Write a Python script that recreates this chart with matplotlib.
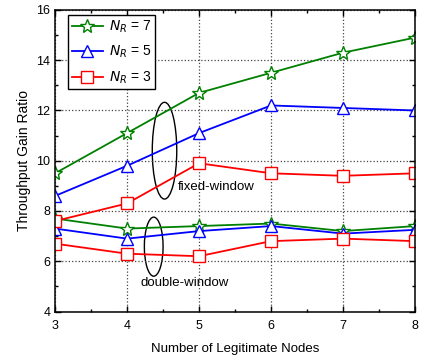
import numpy as np
import matplotlib.pyplot as plt
from matplotlib.patches import Ellipse
from matplotlib.ticker import MultipleLocator

plt.rcParams['font.family'] = ['Liberation Sans', 'DejaVu Sans']

# ------------------------------------------------------------
# Data
# ------------------------------------------------------------
nodes = [3, 4, 5, 6, 7, 8]

fixed_nr7 = [9.5, 11.1, 12.7, 13.5, 14.3, 14.9]
fixed_nr5 = [8.6, 9.8, 11.1, 12.2, 12.1, 12.0]
fixed_nr3 = [7.6, 8.3, 9.9, 9.5, 9.4, 9.5]

double_nr7 = [7.7, 7.3, 7.4, 7.5, 7.2, 7.4]
double_nr5 = [7.3, 6.9, 7.2, 7.4, 7.1, 7.25]
double_nr3 = [6.7, 6.3, 6.2, 6.8, 6.9, 6.8]

series = [
    ("$N_R$ = 7", fixed_nr7, double_nr7, "#008000", "*"),
    ("$N_R$ = 5", fixed_nr5, double_nr5, "#0000ff", "^"),
    ("$N_R$ = 3", fixed_nr3, double_nr3, "#ff0000", "s"),
]

# ------------------------------------------------------------
# Plot
# ------------------------------------------------------------
fig = plt.figure(figsize=(4.27, 3.56), dpi=100)
ax = fig.add_axes([0.129, 0.125, 0.843, 0.847])

for label, fixed, double, color, marker in series:
    ms = 10 if marker == "*" else 8
    ax.plot(nodes, fixed, color=color, marker=marker, ms=ms, mfc="white",
            mec=color, lw=1.3, label=label)
    ax.plot(nodes, double, color=color, marker=marker, ms=ms, mfc="white",
            mec=color, lw=1.3)

# annotations
ax.add_patch(Ellipse((4.52, 10.4), 0.34, 3.85, fill=False, ec="black", lw=1))
ax.text(4.71, 8.95, "fixed-window", fontsize=9.5, va="center")
ax.add_patch(Ellipse((4.37, 6.58), 0.26, 2.35, fill=False, ec="black", lw=1))
ax.text(4.18, 5.12, "double-window", fontsize=9.5, va="center")

ax.set_xlim(3, 8)
ax.set_ylim(4, 16)
ax.xaxis.set_major_locator(MultipleLocator(1))
ax.xaxis.set_minor_locator(MultipleLocator(0.5))
ax.yaxis.set_major_locator(MultipleLocator(2))
ax.yaxis.set_minor_locator(MultipleLocator(1))
ax.tick_params(which="both", direction="in", top=True, right=True, labelsize=9)
ax.tick_params(which="major", length=4, width=1)
ax.tick_params(which="minor", length=2.5, width=1)
ax.tick_params(axis="x", which="major", pad=6)
for s in ax.spines.values():
    s.set_linewidth(1.1)
ax.grid(True, which="major", ls=":", color="#444444", lw=0.9)

ax.set_xlabel("Number of Legitimate Nodes", fontsize=9.5, labelpad=8)
ax.set_ylabel("Throughput Gain Ratio", fontsize=10)

leg = ax.legend(loc="upper left", fontsize=10, fancybox=False, framealpha=1,
                edgecolor="black", handlelength=2.3, handletextpad=0.4,
                borderpad=0.25, borderaxespad=0, labelspacing=0.65,
                bbox_to_anchor=(0.036, 0.983))
leg.get_frame().set_linewidth(1)

fig.savefig("out.png", dpi=100)
